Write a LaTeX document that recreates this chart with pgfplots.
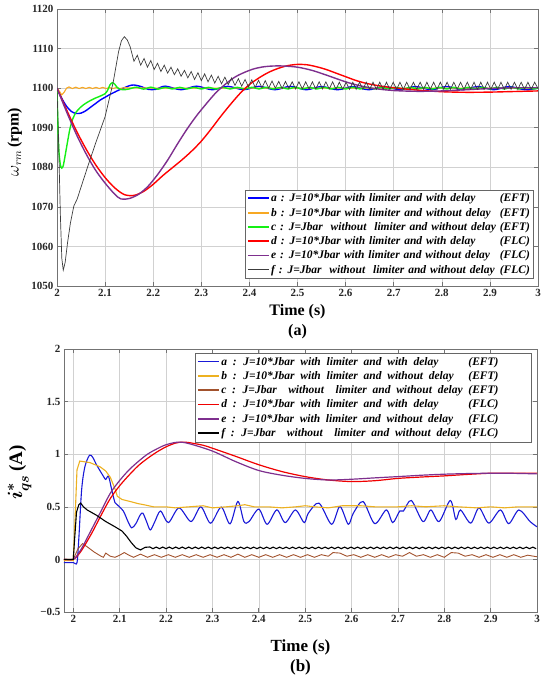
\documentclass[border=0pt]{standalone}
\usepackage{fontspec}
\setmainfont{Liberation Serif}
\usepackage{pgfplots}
\pgfplotsset{compat=1.18}
\definecolor{colTopA}{RGB}{0,0,255}
\definecolor{colTopB}{RGB}{247,168,35}
\definecolor{colTopC}{RGB}{20,240,20}
\definecolor{colTopD}{RGB}{255,0,0}
\definecolor{colTopE}{RGB}{126,47,142}
\definecolor{colTopF}{RGB}{60,60,60}
\definecolor{colBotA}{RGB}{25,25,215}
\definecolor{colBotB}{RGB}{237,177,32}
\definecolor{colBotC}{RGB}{162,82,45}
\definecolor{colBotD}{RGB}{240,0,0}
\definecolor{colBotE}{RGB}{126,47,142}
\definecolor{colBotF}{RGB}{0,0,0}
\newcommand{\lfa}{\bfseries\itshape\fontsize{11.5bp}{13bp}\selectfont\spaceskip=0.34em\relax}
\newcommand{\lfb}{\bfseries\itshape\fontsize{11.5bp}{13bp}\selectfont\spaceskip=0.5em\relax}
\newlength{\lwa}
\newlength{\lwb}
\newlength{\tw}
\newcommand{\lega}[2]{\makebox[\lwa][l]{#1}\ \makebox[\tw][r]{#2}}
\newcommand{\legb}[2]{\makebox[\lwb][l]{#1}\ \makebox[\tw][r]{#2}\hspace*{30bp}}
\pgfplotsset{legend image code/.code={\draw[line cap=butt,#1] (0bp,0.3bp) -- (21bp,0.3bp);}}
\pgfplotsset{common/.style={
  scale only axis, grid=major,
  major grid style={draw=black!18, line width=0.5bp},
  axis line style={draw=black!55, line width=0.6bp},
  tick style={draw=black!55, line width=0.6bp},
  tick align=inside, major tick length=4bp,
  ticklabel style={font=\bfseries\fontsize{11bp}{13bp}\selectfont, text=black!85},
  legend cell align=left,
  legend style={draw=black!60, line width=0.6bp, fill=white,
    inner xsep=1.5bp, inner ysep=1.5bp, row sep=0bp, nodes={inner xsep=1.5bp, inner ysep=2.4bp}},
  xlabel style={font=\bfseries\fontsize{16bp}{18bp}\selectfont, at={(axis description cs:0.5,0)}, anchor=center},
  xtick={2,2.1,2.2,2.3,2.4,2.5,2.6,2.7,2.8,2.9,3},
  xticklabels={2,2.1,2.2,2.3,2.4,2.5,2.6,2.7,2.8,2.9,3},
}}
\begin{document}
\settowidth{\lwa}{\lfa c : J=Jbar\ \ without\ \ limiter and without delay}%
\settowidth{\lwb}{\lfb c : J=Jbar\ \ without\ \ limiter and without delay}%
\settowidth{\tw}{\lfa (EFT)}%
\begin{tikzpicture}
\path[use as bounding box] (0,0) rectangle (550bp,-679bp);
% ---------------- (a) ----------------
\begin{axis}[common, name=top, at={(57bp,-286bp)}, anchor=south west,
  width=481bp, height=277bp, xmin=2, xmax=3, ymin=1050, ymax=1120,
  ytick={1050,1060,1070,1080,1090,1100,1110,1120},
  yticklabels={1050,1060,1070,1080,1090,1100,1110,1120},
  xlabel={Time (s)}, xlabel style={yshift=-26bp},
  ylabel={$\omega_{rm}$\,\textbf{(rpm)}},
  ylabel style={font=\fontsize{16bp}{18bp}\selectfont, at={(axis description cs:-0.088,0.52)}, anchor=center},
  legend style={font=\lfa, at={(0.99,0.025)}, anchor=south east}]
\addplot[forget plot, color=colTopA, line width=1.4bp, smooth, tension=0.5] coordinates {
(2.000,1100) (2.010,1097.4) (2.020,1095.4) (2.030,1094.1) (2.040,1093.6) (2.050,1093.7) (2.060,1094.3) (2.070,1095.2) (2.080,1096.1) (2.090,1097.0) (2.100,1097.7) (2.110,1098.4) (2.120,1099.0) (2.130,1099.6) (2.140,1100.1) (2.150,1100.6) (2.160,1100.8) (2.175,1100.4) (2.190,1099.7) (2.205,1099.7) (2.225,1100.5) (2.258,1099.6) (2.290,1100.5) (2.323,1099.6) (2.355,1100.45) (2.388,1099.6) (2.420,1100.45) (2.453,1099.6) (2.485,1100.45) (2.518,1099.6) (2.550,1100.4) (2.583,1099.6) (2.615,1100.4) (2.648,1099.6) (2.680,1100.4) (2.713,1099.6) (2.745,1100.4) (2.778,1099.6) (2.810,1100.4) (2.843,1099.6) (2.875,1100.4) (2.908,1099.6) (2.940,1100.4) (2.973,1099.6) (3.000,1100.0)};
\addplot[forget plot, color=colTopB, line width=1.1bp] coordinates {
(2.000,1100) (2.005,1099.2) (2.010,1098.3) (2.015,1099.0) (2.020,1100.0) (2.025,1100.3) (2.032,1099.9) (2.039,1100.25) (2.046,1099.9) (2.053,1100.2) (2.060,1099.9) (2.067,1100.2) (2.074,1099.9) (2.081,1100.2) (2.088,1099.9) (2.095,1100.2) (2.102,1099.9) (2.109,1100.15) (2.116,1099.9) (2.123,1100.15) (2.130,1099.9) (2.140,1100.1) (2.200,1100.0) (3.000,1100.0)};
\addplot[forget plot, color=colTopC, line width=1.4bp, smooth, tension=0.4] coordinates {
(2.000,1100) (2.002,1090) (2.004,1084) (2.007,1080.6) (2.010,1079.8) (2.013,1080.4) (2.017,1083) (2.022,1086.5) (2.027,1089.8) (2.033,1092.3) (2.040,1094.0) (2.050,1095.3) (2.060,1096.2) (2.070,1096.9) (2.080,1097.5) (2.090,1098.0) (2.100,1098.6) (2.105,1099.4) (2.110,1100.8) (2.115,1101.4) (2.120,1101.0) (2.125,1100.2) (2.132,1099.7) (2.140,1099.6) (2.150,1099.8) (2.165,1100.25) (2.180,1099.75) (2.195,1100.25) (2.210,1099.75) (2.225,1100.2) (2.240,1099.8) (2.255,1100.2) (2.270,1099.8) (2.285,1100.2) (2.300,1099.8) (2.315,1100.2) (2.330,1099.8) (2.345,1100.2) (2.360,1099.8) (2.375,1100.2) (2.390,1099.8) (2.405,1100.2) (2.420,1099.8) (2.435,1100.2) (2.450,1099.8) (2.465,1100.2) (2.480,1099.8) (2.495,1100.2) (2.510,1099.8) (2.525,1100.2) (2.540,1099.8) (2.555,1100.2) (2.570,1099.8) (2.585,1100.2) (2.600,1099.8) (2.615,1100.2) (2.630,1099.8) (2.645,1100.2) (2.660,1099.8) (2.675,1100.2) (2.690,1099.8) (2.705,1100.2) (2.720,1099.8) (2.735,1100.2) (2.750,1099.8) (2.765,1100.2) (2.780,1099.8) (2.795,1100.2) (2.810,1099.8) (2.825,1100.2) (2.840,1099.8) (2.855,1100.2) (2.870,1099.8) (2.885,1100.2) (2.900,1099.8) (2.915,1100.2) (2.930,1099.8) (2.945,1100.2) (2.960,1099.8) (2.975,1100.2) (2.990,1099.8) (3.000,1100.0)};
\addplot[forget plot, color=colTopD, line width=1.4bp, smooth] coordinates {
(2.00,1100) (2.02,1094.5) (2.04,1089.3) (2.06,1084.7) (2.08,1080.7) (2.10,1077.4) (2.12,1074.8) (2.14,1073.1) (2.16,1072.9) (2.18,1073.9) (2.20,1075.7) (2.22,1077.9) (2.24,1079.9) (2.26,1081.9) (2.28,1084.1) (2.30,1086.6) (2.32,1089.6) (2.34,1092.8) (2.36,1095.8) (2.38,1098.6) (2.40,1100.9) (2.42,1102.6) (2.44,1104.0) (2.46,1105.0) (2.48,1105.7) (2.50,1106.0) (2.52,1105.9) (2.54,1105.4) (2.56,1104.7) (2.58,1103.8) (2.60,1102.9) (2.62,1102.0) (2.64,1101.3) (2.66,1100.8) (2.68,1100.4) (2.70,1100.1) (2.75,1099.5) (2.80,1099.1) (2.85,1098.95) (2.90,1099.0) (2.95,1099.15) (3.00,1099.3)};
\addplot[forget plot, color=colTopE, line width=1.4bp, smooth] coordinates {
(2.000,1100) (2.020,1094.0) (2.040,1088.4) (2.060,1083.5) (2.080,1079.3) (2.100,1076.0) (2.120,1073.2) (2.133,1072.0) (2.150,1072.1) (2.170,1073.2) (2.190,1075.3) (2.210,1078.3) (2.230,1081.8) (2.250,1085.8) (2.270,1089.6) (2.290,1093.0) (2.310,1096.0) (2.330,1098.8) (2.350,1101.0) (2.370,1102.8) (2.390,1104.0) (2.410,1104.9) (2.430,1105.4) (2.450,1105.6) (2.470,1105.6) (2.500,1105.3) (2.530,1104.5) (2.560,1103.3) (2.600,1101.6) (2.630,1100.6) (2.660,1099.9) (2.700,1099.4) (2.750,1099.2) (2.800,1099.3) (2.850,1099.6) (2.900,1099.9) (2.950,1100.1) (3.000,1100.1)};
\addplot[forget plot, color=colTopF, line width=0.7bp] coordinates {
(2.000,1100) (2.003,1088) (2.007,1068) (2.010,1057) (2.013,1054) (2.017,1056) (2.022,1061) (2.028,1066) (2.035,1070.2) (2.042,1072) (2.050,1075) (2.065,1080.6) (2.080,1086) (2.100,1092.8) (2.117,1101.6) (2.128,1109.2) (2.134,1112) (2.140,1113) (2.146,1112.2) (2.152,1110.5) (2.160,1106.8)
(2.167,1108.3) (2.174,1105.8) (2.181,1107.5) (2.188,1105.3) (2.195,1107.0) (2.202,1104.7) (2.209,1106.3) (2.216,1104.2) (2.223,1105.8) (2.230,1103.8) (2.237,1105.3) (2.244,1103.4) (2.251,1104.9) (2.258,1103.0) (2.265,1104.5) (2.272,1102.6) (2.279,1104.2) (2.286,1102.2) (2.293,1103.9) (2.300,1101.9) (2.307,1103.6) (2.314,1101.6) (2.321,1103.3) (2.328,1101.3) (2.335,1103.0) (2.342,1101.1) (2.349,1102.8) (2.356,1100.9) (2.363,1102.6) (2.370,1100.7) (2.377,1102.4) (2.384,1100.5) (2.391,1102.2) (2.398,1100.3) (2.405,1102.1) (2.412,1100.2) (2.419,1102.0) (2.426,1100.1) (2.433,1101.9) (2.440,1100.0) (2.447,1101.8) (2.454,1100.0) (2.461,1101.7) (2.468,1099.9) (2.475,1101.7) (2.482,1099.9) (2.489,1101.6) (2.496,1099.8) (2.503,1101.6) (2.510,1099.8) (2.517,1101.6) (2.524,1099.8) (2.531,1101.6) (2.538,1099.8) (2.545,1101.6) (2.552,1099.8) (2.559,1101.6) (2.566,1099.8) (2.573,1101.6) (2.580,1099.7) (2.587,1101.5) (2.594,1099.7) (2.601,1101.5) (2.608,1099.7) (2.615,1101.5) (2.622,1099.7) (2.629,1101.5) (2.636,1099.7) (2.643,1101.5) (2.650,1099.7) (2.657,1101.5) (2.664,1099.7) (2.671,1101.5) (2.678,1099.7) (2.685,1101.5) (2.692,1099.7) (2.699,1101.5) (2.706,1099.7) (2.713,1101.5) (2.720,1099.7) (2.727,1101.5) (2.734,1099.7) (2.741,1101.5) (2.748,1099.7) (2.755,1101.5) (2.762,1099.7) (2.769,1101.5) (2.776,1099.7) (2.783,1101.5) (2.790,1099.7) (2.797,1101.5) (2.804,1099.7) (2.811,1101.5) (2.818,1099.7) (2.825,1101.5) (2.832,1099.7) (2.839,1101.5) (2.846,1099.7) (2.853,1101.5) (2.860,1099.7) (2.867,1101.5) (2.874,1099.7) (2.881,1101.5) (2.888,1099.7) (2.895,1101.5) (2.902,1099.7) (2.909,1101.5) (2.916,1099.7) (2.923,1101.5) (2.930,1099.7) (2.937,1101.5) (2.944,1099.7) (2.951,1101.5) (2.958,1099.7) (2.965,1101.5) (2.972,1099.7) (2.979,1101.5) (2.986,1099.7) (2.993,1101.5) (3.000,1099.9)};
\addlegendimage{color=colTopA, line width=1.8bp}
\addlegendentry{\lega{a : J=10*Jbar with limiter and with delay}{(EFT)}}
\addlegendimage{color=colTopB, line width=1.8bp}
\addlegendentry{\lega{b : J=10*Jbar with limiter and without delay}{(EFT)}}
\addlegendimage{color=colTopC, line width=1.8bp}
\addlegendentry{\lega{c : J=Jbar\ \ without\ \ limiter and without delay}{(EFT)}}
\addlegendimage{color=colTopD, line width=1.8bp}
\addlegendentry{\lega{d : J=10*Jbar with limiter and with delay}{(FLC)}}
\addlegendimage{color=colTopE, line width=1.8bp}
\addlegendentry{\lega{e : J=10*Jbar with limiter and without delay}{(FLC)}}
\addlegendimage{color=colTopF, line width=1.0bp}
\addlegendentry{\lega{f : J=Jbar\ \ without\ \ limiter and without delay}{(FLC)}}
\end{axis}
\node[font=\bfseries\fontsize{16bp}{18bp}\selectfont] at ([yshift=-46bp]top.south) {(a)};
% ---------------- (b) ----------------
\begin{axis}[common, name=bot, at={(64bp,-612bp)}, anchor=south west,
  width=473bp, height=263bp, xmin=1.98, xmax=3, ymin=-0.5, ymax=2,
  ytick={-0.5,0,0.5,1,1.5,2},
  yticklabels={{−0.5},0,0.5,1,1.5,2},
  xlabel={Time (s)}, xlabel style={yshift=-35bp, font=\bfseries\fontsize{17bp}{19bp}\selectfont},
  ylabel={{\boldmath$i^{*}_{qs}$}\,\textbf{(A)}},
  ylabel style={font=\fontsize{19bp}{21bp}\selectfont, at={(axis description cs:-0.094,0.53)}, anchor=center},
  legend style={font=\lfb, at={(0.989,0.985)}, anchor=north east}]
\addplot[forget plot, color=colBotA, line width=1.1bp, smooth, tension=0.5] coordinates {
(1.980,-0.03) (2.000,-0.03) (2.008,-0.03) (2.012,0.20) (2.018,0.66) (2.025,0.88) (2.035,0.99) (2.042,0.97) (2.050,0.90) (2.065,0.79) (2.070,0.76) (2.076,0.79) (2.083,0.66) (2.090,0.54) (2.097,0.51) (2.108,0.46) (2.118,0.36) (2.126,0.30) (2.135,0.34) (2.144,0.42) (2.150,0.44) (2.158,0.36) (2.166,0.28) (2.175,0.35) (2.188,0.46) (2.205,0.35) (2.228,0.49) (2.254,0.36) (2.275,0.50) (2.296,0.344) (2.319,0.497) (2.338,0.338) (2.355,0.551) (2.368,0.36) (2.379,0.36) (2.400,0.478) (2.418,0.334) (2.439,0.471) (2.457,0.35) (2.479,0.47) (2.498,0.35) (2.507,0.44) (2.530,0.535) (2.557,0.334) (2.575,0.503) (2.593,0.334) (2.604,0.44) (2.625,0.55) (2.650,0.34) (2.675,0.47) (2.689,0.35) (2.704,0.46) (2.712,0.46) (2.729,0.56) (2.754,0.36) (2.771,0.47) (2.789,0.36) (2.813,0.56) (2.825,0.38) (2.835,0.47) (2.857,0.345) (2.875,0.49) (2.896,0.345) (2.921,0.47) (2.939,0.34) (2.961,0.47) (2.985,0.36) (3.000,0.31)};
\addplot[forget plot, color=colBotB, line width=1.1bp] coordinates {
(1.980,-0.01) (2.000,-0.01) (2.004,0.40) (2.008,0.85) (2.014,0.935) (2.036,0.92) (2.058,0.88) (2.070,0.84) (2.080,0.78) (2.090,0.67) (2.095,0.60) (2.105,0.57) (2.123,0.55) (2.140,0.53) (2.152,0.52) (2.173,0.50) (2.200,0.50) (2.220,0.49) (2.250,0.50) (2.280,0.51) (2.300,0.49) (2.330,0.50) (2.355,0.51) (2.370,0.52) (2.390,0.50) (2.420,0.50) (2.450,0.49) (2.480,0.50) (2.500,0.51) (2.520,0.50) (2.550,0.49) (2.580,0.51) (2.620,0.51) (2.650,0.50) (2.700,0.50) (2.730,0.51) (2.760,0.50) (2.800,0.51) (2.830,0.50) (2.870,0.49) (2.900,0.50) (2.930,0.49) (2.960,0.50) (3.000,0.50)};
\addplot[forget plot, color=colBotC, line width=0.9bp] coordinates {
(1.980,0) (2.000,0) (2.010,0.10) (2.020,0.15) (2.030,0.12) (2.045,0.07) (2.060,0.03) (2.065,0.02) (2.070,0.06) (2.080,0.03) (2.090,0.02) (2.100,0.04) (2.110,0.065) (2.120,0.04) (2.130,0.02) (2.145,0.05) (2.160,0.02) (2.175,0.045) (2.190,0.02) (2.205,0.045) (2.220,0.02) (2.235,0.045) (2.250,0.02) (2.265,0.045) (2.280,0.02) (2.295,0.045) (2.310,0.02) (2.325,0.045) (2.340,0.02) (2.355,0.05) (2.370,0.02) (2.385,0.045) (2.400,0.02) (2.415,0.045) (2.430,0.02) (2.445,0.045) (2.460,0.02) (2.475,0.045) (2.490,0.02) (2.505,0.045) (2.520,0.02) (2.535,0.045) (2.550,0.03) (2.560,0.065) (2.575,0.06) (2.590,0.03) (2.605,0.045) (2.620,0.02) (2.635,0.045) (2.650,0.02) (2.665,0.045) (2.680,0.02) (2.695,0.045) (2.710,0.03) (2.725,0.065) (2.740,0.03) (2.755,0.045) (2.770,0.02) (2.785,0.045) (2.800,0.02) (2.815,0.065) (2.830,0.06) (2.845,0.03) (2.860,0.045) (2.875,0.02) (2.890,0.045) (2.905,0.02) (2.920,0.045) (2.935,0.02) (2.950,0.045) (2.965,0.02) (2.980,0.04) (3.000,0.025)};
\addplot[forget plot, color=colBotD, line width=1.2bp, smooth] coordinates {
(1.980,0) (2.000,0) (2.010,0.04) (2.020,0.10) (2.040,0.25) (2.060,0.42) (2.080,0.58) (2.100,0.70) (2.120,0.80) (2.140,0.89) (2.160,0.96) (2.180,1.02) (2.200,1.07) (2.220,1.105) (2.235,1.115) (2.250,1.11) (2.280,1.085) (2.300,1.057) (2.350,0.98) (2.400,0.90) (2.450,0.835) (2.500,0.787) (2.550,0.755) (2.600,0.74) (2.650,0.748) (2.700,0.77) (2.750,0.783) (2.800,0.794) (2.850,0.808) (2.900,0.819) (2.950,0.82) (3.000,0.82)};
\addplot[forget plot, color=colBotE, line width=1.2bp, smooth] coordinates {
(1.980,0) (2.000,0) (2.010,0.05) (2.020,0.12) (2.040,0.29) (2.060,0.46) (2.080,0.63) (2.100,0.75) (2.120,0.85) (2.140,0.93) (2.160,1.00) (2.180,1.05) (2.200,1.09) (2.226,1.115) (2.250,1.10) (2.300,1.03) (2.350,0.93) (2.400,0.845) (2.450,0.80) (2.500,0.77) (2.550,0.755) (2.600,0.762) (2.650,0.775) (2.700,0.787) (2.750,0.80) (2.800,0.81) (2.850,0.816) (2.900,0.819) (2.950,0.818) (3.000,0.813)};
\addplot[forget plot, color=colBotF, line width=1.1bp] coordinates {
(1.980,0) (2.000,0) (2.003,0.20) (2.007,0.45) (2.012,0.52) (2.016,0.535) (2.022,0.50) (2.030,0.47) (2.050,0.42) (2.070,0.36) (2.090,0.31) (2.105,0.27) (2.115,0.22) (2.125,0.16) (2.135,0.11) (2.145,0.09) (2.155,0.115) (2.165,0.118)
(2.172,0.102) (2.179,0.117) (2.186,0.102) (2.193,0.117) (2.200,0.102) (2.207,0.117) (2.214,0.102) (2.221,0.117) (2.228,0.102) (2.235,0.117) (2.242,0.102) (2.249,0.117) (2.256,0.102) (2.263,0.117) (2.270,0.102) (2.277,0.117) (2.284,0.102) (2.291,0.117) (2.298,0.102) (2.305,0.117) (2.312,0.102) (2.319,0.117) (2.326,0.102) (2.333,0.117) (2.340,0.102) (2.347,0.117) (2.354,0.102) (2.361,0.117) (2.368,0.102) (2.375,0.117) (2.382,0.102) (2.389,0.117) (2.396,0.102) (2.403,0.117) (2.410,0.102) (2.417,0.117) (2.424,0.102) (2.431,0.117) (2.438,0.102) (2.445,0.117) (2.452,0.102) (2.459,0.117) (2.466,0.102) (2.473,0.117) (2.480,0.102) (2.487,0.117) (2.494,0.102) (2.501,0.117) (2.508,0.102) (2.515,0.117) (2.522,0.102) (2.529,0.117) (2.536,0.102) (2.543,0.117) (2.550,0.102) (2.557,0.117) (2.564,0.102) (2.571,0.117) (2.578,0.102) (2.585,0.117) (2.592,0.102) (2.599,0.117) (2.606,0.102) (2.613,0.117) (2.620,0.102) (2.627,0.117) (2.634,0.102) (2.641,0.117) (2.648,0.102) (2.655,0.117) (2.662,0.102) (2.669,0.117) (2.676,0.102) (2.683,0.117) (2.690,0.102) (2.697,0.117) (2.704,0.102) (2.711,0.117) (2.718,0.102) (2.725,0.117) (2.732,0.102) (2.739,0.117) (2.746,0.102) (2.753,0.117) (2.760,0.102) (2.767,0.117) (2.774,0.102) (2.781,0.117) (2.788,0.102) (2.795,0.117) (2.802,0.102) (2.809,0.117) (2.816,0.102) (2.823,0.117) (2.830,0.102) (2.837,0.117) (2.844,0.102) (2.851,0.117) (2.858,0.102) (2.865,0.117) (2.872,0.102) (2.879,0.117) (2.886,0.102) (2.893,0.117) (2.900,0.102) (2.907,0.117) (2.914,0.102) (2.921,0.117) (2.928,0.102) (2.935,0.117) (2.942,0.102) (2.949,0.117) (2.956,0.102) (2.963,0.117) (2.970,0.102) (2.977,0.117) (2.984,0.102) (2.991,0.117) (2.998,0.102)};
\addlegendimage{color=colBotA, line width=1.8bp}
\addlegendentry{\legb{a : J=10*Jbar with limiter and with delay}{(EFT)}}
\addlegendimage{color=colBotB, line width=1.8bp}
\addlegendentry{\legb{b : J=10*Jbar with limiter and without delay}{(EFT)}}
\addlegendimage{color=colBotC, line width=1.8bp}
\addlegendentry{\legb{c : J=Jbar\ \ without\ \ limiter and without delay}{(EFT)}}
\addlegendimage{color=colBotD, line width=1.8bp}
\addlegendentry{\legb{d : J=10*Jbar with limiter and with delay}{(FLC)}}
\addlegendimage{color=colBotE, line width=1.8bp}
\addlegendentry{\legb{e : J=10*Jbar with limiter and without delay}{(FLC)}}
\addlegendimage{color=colBotF, line width=1.8bp}
\addlegendentry{\legb{f : J=Jbar\ \ without\ \ limiter and without delay}{(FLC)}}
\end{axis}
\node[font=\bfseries\fontsize{17bp}{19bp}\selectfont] at ([yshift=-55bp]bot.south) {(b)};
\end{tikzpicture}
\end{document}
